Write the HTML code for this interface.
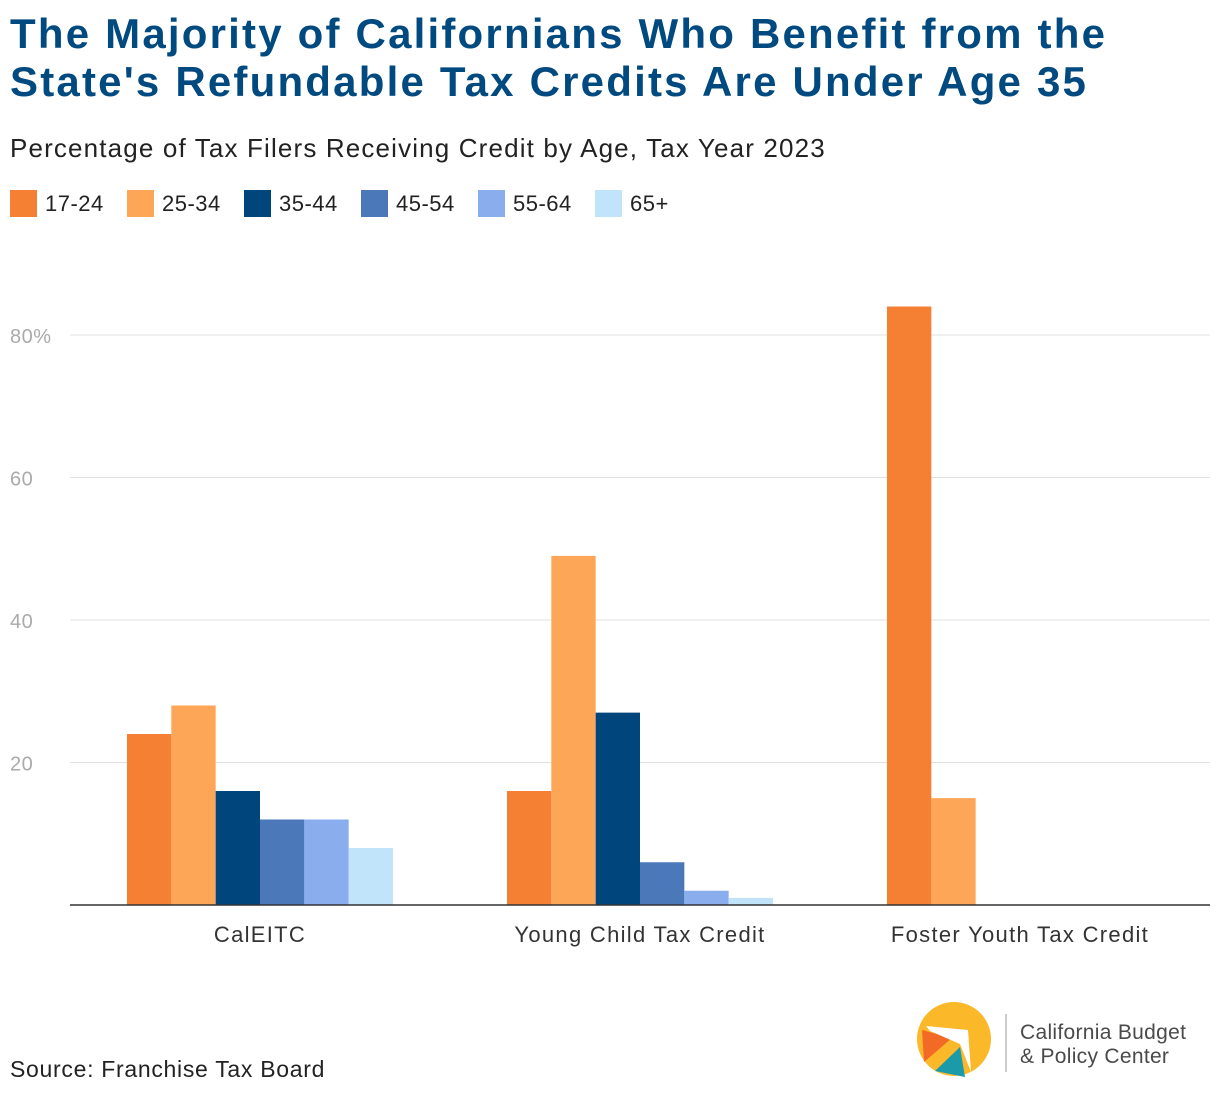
<!DOCTYPE html>
<html><head><meta charset="utf-8"><style>
body{margin:0;width:1220px;height:1100px;background:#fff;font-family:"Liberation Sans",sans-serif;position:relative;overflow:hidden}
.t{position:absolute;left:10px;top:10px;font-size:42px;font-weight:bold;color:#004a80;line-height:48px;letter-spacing:2.2px}
.s{position:absolute;left:10px;top:133px;font-size:26px;color:#222;letter-spacing:1.15px}
.lg{position:absolute;top:190px;font-size:22px;color:#222;display:flex;align-items:center;letter-spacing:0.5px}
.lg i{display:inline-block;width:27px;height:27px;margin-right:8px}
.src{position:absolute;left:10px;top:1056px;font-size:23px;color:#222;letter-spacing:0.7px}
</style></head><body>
<div class="t">The Majority of Californians Who Benefit from the<br>State's Refundable Tax Credits Are Under Age 35</div>
<div class="s">Percentage of Tax Filers Receiving Credit by Age, Tax Year 2023</div>
<div id="legend"></div>
<svg id="chart" width="1220" height="1100" style="position:absolute;left:0;top:0"></svg>
<div class="src">Source: Franchise Tax Board</div>
<svg width="300" height="90" style="position:absolute;left:910px;top:1000px">
<circle cx="44" cy="39" r="37" fill="#fbb829"/>
<polygon points="12,30 42,38 14,62" fill="#f26a26"/>
<polygon points="25,71 50,47 55,77" fill="#1b9aaa"/>
<polygon points="16,26 58,30 61,72 50,44 20,31" fill="#fff"/>
<line x1="96" y1="14" x2="96" y2="72" stroke="#bbb" stroke-width="1.5"/>
<text x="110" y="39" font-size="21" fill="#4a4a4a" font-family="Liberation Sans" letter-spacing="0.3">California Budget</text>
<text x="110" y="63" font-size="21" fill="#4a4a4a" font-family="Liberation Sans" letter-spacing="0.3">&amp; Policy Center</text>
</svg>
<script>
const categories=["CalEITC","Young Child Tax Credit","Foster Youth Tax Credit"];
const seriesNames=["17-24","25-34","35-44","45-54","55-64","65+"];
const s1724=[24,16,84];
const s2534=[28,49,15];
const s3544=[16,27,0];
const s4554=[12,6,0];
const s5564=[12,2,0];
const s65=[8,1,0];
const yTicks=[20,40,60,80];
const yTickLabels=["20","40","60","80%"];
const series=[s1724,s2534,s3544,s4554,s5564,s65];
const colors=["#f58033","#fda657","#00457c","#4a78b9","#89aded","#c2e4fb"];
const NS="http://www.w3.org/2000/svg",svg=document.getElementById("chart");
const x0=70,x1=1210,base=905,ppu=7.125;
const y=v=>base-v*ppu;
const gw=(x1-x0)/categories.length,bw=gw*0.7/seriesNames.length;
function mk(t,a){const e=document.createElementNS(NS,t);for(const k in a)e.setAttribute(k,a[k]);svg.appendChild(e);return e;}
yTicks.forEach((v,i)=>{
 const l=mk("line",{x1:x0,x2:x1,y1:y(v),y2:y(v),stroke:"#e0e0e0","stroke-width":1});
 
 
 const t=mk("text",{x:10,y:y(v)+8,"font-size":20,fill:"#aaa","font-family":"Liberation Sans","letter-spacing":0.5});
 t.textContent=yTickLabels[i];
 
 
});
categories.forEach((c,ci)=>{
 const gx=x0+gw*ci+gw*0.15;
 series.forEach((s,si)=>{
  const v=s[ci];if(v<=0)return;
  const r=mk("rect",{x:gx+bw*si,y:y(v),width:bw,height:v*ppu,fill:colors[si]});
  
  
 });
 const t=mk("text",{x:x0+gw*ci+gw/2,y:942,"font-size":22,fill:"#333","text-anchor":"middle","font-family":"Liberation Sans","letter-spacing":1.3});
 t.textContent=c;
 
 
});
const ax=mk("line",{x1:x0,x2:x1,y1:base,y2:base,stroke:"#333","stroke-width":1.5});


const lx=[10,127,244,361,478,595];
const lg=document.getElementById("legend");
seriesNames.forEach((n,i)=>{
 const d=document.createElement("div");d.className="lg";d.style.left=lx[i]+"px";
 d.innerHTML='<i style="background:'+colors[i]+'"></i>'+n;
 
 
 lg.appendChild(d);
});
</script>
</body></html>
